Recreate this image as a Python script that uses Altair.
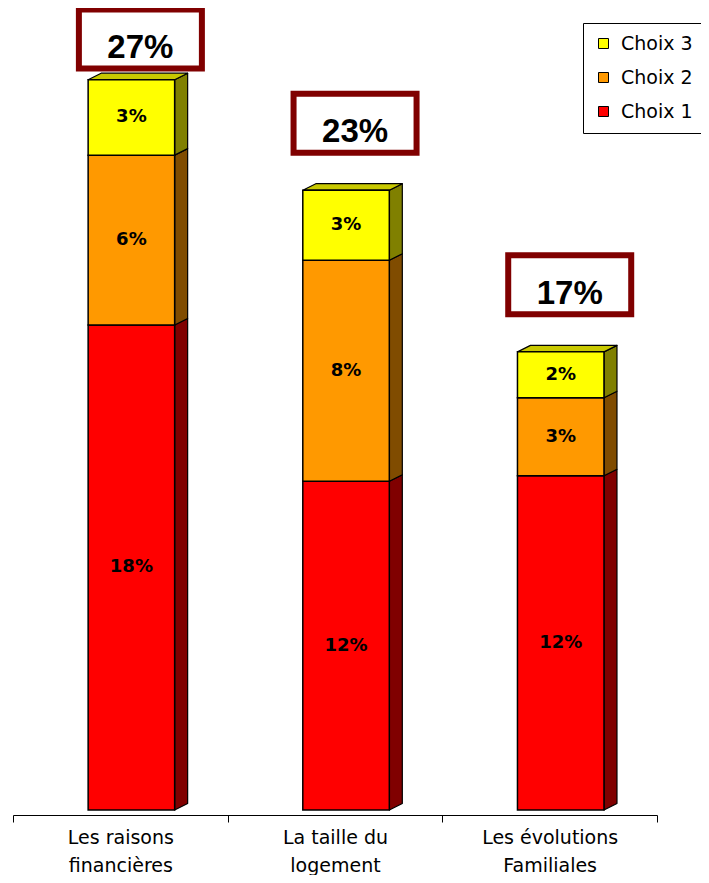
import json
import altair as alt
import pandas as pd

# ---------------- data ----------------
CATEGORIES = ["Les raisons\nfinancières", "La taille du\nlogement", "Les évolutions\nFamiliales"]
SERIES = ["Choix 1", "Choix 2", "Choix 3"]
CHOIX_1 = [18.0, 12.2, 12.4]
CHOIX_2 = [6.3, 8.2, 2.9]
CHOIX_3 = [2.8, 2.6, 1.7]

FRONT_COLORS = ["#FF0000", "#FF9900", "#FFFF00"]
SIDE_COLORS = ["#800000", "#804C00", "#808000"]
TOP_COLORS = ["#C80000", "#C87800", "#C8C800"]

# ---------------- layout constants ----------------
W, H = 644, 795
YMAX = 29.5
PXU_Y = H / YMAX
PXU_X = W / 3
FL, FR = 0.35, 0.753          # front face, as fraction of category band
DX = 13 / PXU_X               # 3D depth
DY = 6.5 / PXU_Y
BOX_GAP = 67 / PXU_Y
BOX_MAX = YMAX - 24 / PXU_Y

values = [CHOIX_1, CHOIX_2, CHOIX_3]
front, side, top, boxes = [], [], [], []
for i, cat in enumerate(CATEGORIES):
    base = 0.0
    for s, name in enumerate(SERIES):
        v = values[s][i]
        y0, y1 = base, base + v
        xl, xr = i + FL, i + FR
        front.append(dict(series=name, xl=xl, xr=xr, xc=(xl + xr) / 2, y0=y0, y1=y1,
                          ym=(y0 + y1) / 2, label=f"{round(v)}%"))
        sid = f"{i}-{s}"
        side.append(dict(id=sid, series=name, x=xr, lo=y0, hi=y1))
        side.append(dict(id=sid, series=name, x=xr + DX, lo=y0 + DY, hi=y1 + DY))
        base = y1
    top.append(dict(id=str(i), series=SERIES[-1], y=base, xl=i + FL, xr=i + FR))
    top.append(dict(id=str(i), series=SERIES[-1], y=base + DY, xl=i + FL + DX, xr=i + FR + DX))
    boxes.append(dict(xc=i + (FL + FR) / 2, by=min(base + BOX_GAP, BOX_MAX),
                      label=f"{round(base)}%"))

front_df = pd.DataFrame(front)
side_df = pd.DataFrame(side)
top_df = pd.DataFrame(top)
box_df = pd.DataFrame(boxes)

LINES = [c.split("\n") for c in CATEGORIES]
label_expr = ("datum.value % 1 === 0 ? '' : "
              + json.dumps(LINES, ensure_ascii=False) + "[floor(datum.value)]")

xscale = alt.Scale(domain=[0, 3], nice=False, zero=False)
yscale = alt.Scale(domain=[0, YMAX], nice=False, zero=True)

x_axis = alt.Axis(
    values=[0, 0.5, 1, 1.5, 2, 2.5, 3],
    labelExpr=label_expr,
    tickOpacity={"condition": {"test": "datum.value % 1 === 0", "value": 1}, "value": 0},
    title=None, grid=False, offset=5,
    domainColor="black", domainWidth=1, tickColor="black", tickSize=7, tickWidth=1,
    labelFont="DejaVu Sans", labelFontSize=19, labelColor="black",
    labelPadding=6, labelLineHeight=28, labelOverlap=False, labelFlush=False,
    labelBound=False, labelLimit=300,
)

side_layer = alt.Chart(side_df).mark_area(stroke="black", strokeWidth=1.2, strokeJoin="round").encode(
    x=alt.X("x:Q", scale=xscale, axis=x_axis),
    y=alt.Y("hi:Q", scale=yscale, axis=None, stack=None),
    y2="lo:Q",
    detail="id:N",
    color=alt.Color("series:N", scale=alt.Scale(domain=SERIES, range=SIDE_COLORS), legend=None),
)

top_layer = alt.Chart(top_df).mark_area(orient="horizontal", stroke="black", strokeWidth=1.2,
                                        strokeJoin="round").encode(
    y=alt.Y("y:Q", scale=yscale, axis=None),
    x=alt.X("xl:Q", scale=xscale, axis=x_axis, stack=None),
    x2="xr:Q",
    detail="id:N",
    color=alt.Color("series:N", scale=alt.Scale(domain=SERIES, range=TOP_COLORS), legend=None),
)

front_layer = alt.Chart(front_df).mark_rect(stroke="black", strokeWidth=1.5).encode(
    x=alt.X("xl:Q", scale=xscale, axis=x_axis),
    x2="xr:Q",
    y=alt.Y("y0:Q", scale=yscale, axis=None),
    y2="y1:Q",
    color=alt.Color(
        "series:N",
        scale=alt.Scale(domain=SERIES[::-1], range=FRONT_COLORS[::-1]),
        legend=alt.Legend(
            title=None, orient="none", legendX=570, legendY=8,
            strokeColor="black", fillColor="white", padding=11,
            symbolType="square", symbolSize=100, symbolStrokeColor="black",
            symbolStrokeWidth=1, labelFont="DejaVu Sans", labelFontSize=19,
            labelColor="black", labelOffset=8, rowPadding=14, labelLimit=200,
        ),
    ),
)

seg_text = alt.Chart(front_df).mark_text(
    font="DejaVu Sans", fontWeight="bold", fontSize=18, color="black", baseline="middle"
).encode(
    x=alt.X("xc:Q", scale=xscale, axis=x_axis),
    y=alt.Y("ym:Q", scale=yscale, axis=None),
    text="label:N",
)

box_layer = alt.Chart(box_df).mark_rect(
    fill="white", stroke="#800000", strokeWidth=6,
    xOffset=-61.5 + 9, x2Offset=61.5 + 9, yOffset=-29.5, y2Offset=29.5,
).encode(
    x=alt.X("xc:Q", scale=xscale, axis=x_axis),
    x2="xc:Q",
    y=alt.Y("by:Q", scale=yscale, axis=None),
    y2="by:Q",
)

box_text = alt.Chart(box_df).mark_text(
    font="Liberation Sans", fontWeight="bold", fontSize=33, color="black",
    baseline="alphabetic", dy=19, dx=9,
).encode(
    x=alt.X("xc:Q", scale=xscale, axis=x_axis),
    y=alt.Y("by:Q", scale=yscale, axis=None),
    text="label:N",
)

chart = alt.layer(
    side_layer, top_layer, front_layer, seg_text, box_layer, box_text
).resolve_scale(color="independent").properties(
    width=W, height=H,
    autosize=alt.AutoSizeParams(type="none"),
    padding={"left": 5, "top": 7, "right": 44, "bottom": 65},
).configure_view(stroke=None)

chart.save("out.html", embed_options={"renderer": "svg", "actions": False})
